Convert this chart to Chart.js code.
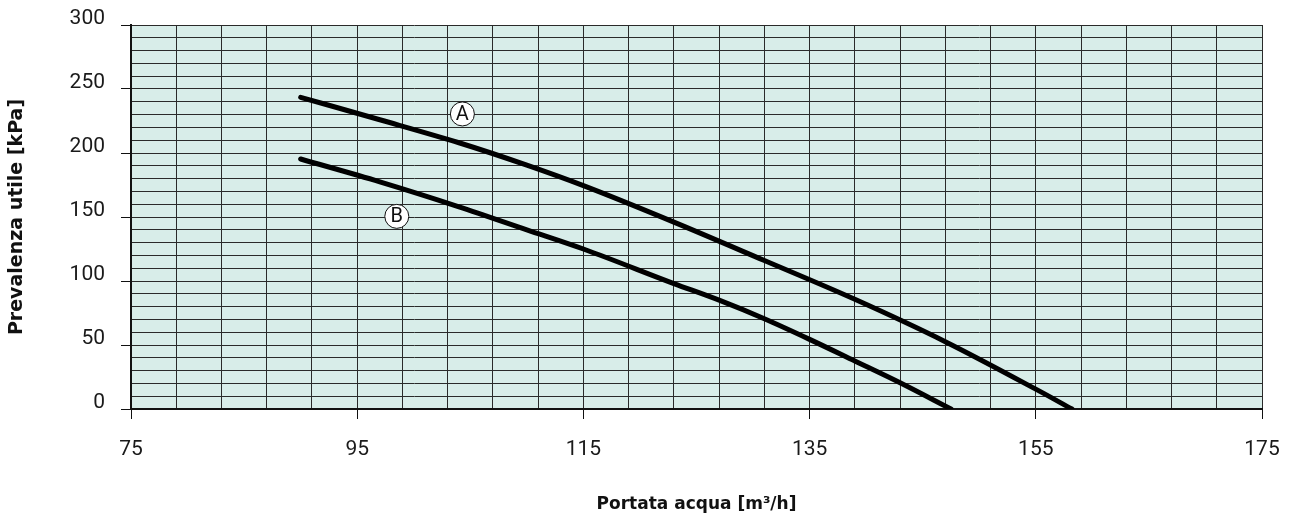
<!DOCTYPE html>
<html>
<head>
<meta charset="utf-8">
<script src="https://cdn.jsdelivr.net/npm/chart.js@4.4.0/dist/chart.umd.min.js"></script>
<style>
  html, body { margin: 0; padding: 0; background: #fff; }
  #wrap { width: 1291px; height: 527px; }
</style>
</head>
<body>
<div id="wrap"><canvas id="chart" width="1291" height="527"></canvas></div>
<script>
// Curve A / B (flow m3/h, head kPa)
const flowA = [90, 97, 104, 110, 115, 123, 131, 139, 147, 155, 158.2];
const headA = [243.5, 226, 208, 190.5, 174.5, 146, 116, 85.7, 52.6, 15.5, 0];
const flowB = [90, 97, 104, 110, 115, 123, 127, 131, 135, 139, 143, 147.5];
const headB = [195.3, 177.5, 158, 140, 125, 98, 85, 70.5, 54.4, 37.5, 20.5, 0];

const xTickLabels = [75, 95, 115, 135, 155, 175];
const yTickLabels = [0, 50, 100, 150, 200, 250, 300];

// circled curve names, placed in data units
const curveNames = ['A', 'B'];
const nameX = [104.3, 98.5];
const nameY = [230.5, 150.5];

const toPoints = (xs, ys) => xs.map((x, i) => ({ x: x, y: ys[i] }));

const plotBg = {
    id: 'plotBg',
    beforeDraw(chart) {
        const a = chart.chartArea, ctx = chart.ctx;
        ctx.save();
        ctx.fillStyle = '#d8ede9';
        ctx.fillRect(a.left, a.top, a.right - a.left, a.bottom - a.top);
        ctx.restore();
    }
};

const circledNames = {
    id: 'circledNames',
    afterDatasetsDraw(chart) {
        const ctx = chart.ctx, xs = chart.scales.x, ys = chart.scales.y;
        ctx.save();
        curveNames.forEach((n, i) => {
            const px = xs.getPixelForValue(nameX[i]);
            const py = ys.getPixelForValue(nameY[i]);
            ctx.beginPath();
            ctx.arc(px, py, 12, 0, Math.PI * 2);
            ctx.fillStyle = '#fff';
            ctx.fill();
            ctx.lineWidth = 1;
            ctx.strokeStyle = '#111';
            ctx.stroke();
            ctx.fillStyle = '#111';
            ctx.font = '20px Roboto';
            ctx.textAlign = 'center';
            ctx.textBaseline = 'middle';
            ctx.fillText(n, px, py + 1);
        });
        ctx.restore();
    }
};

function stepTicks(step) {
    return function(scale) {
        const t = [];
        for (let v = scale.min; v <= scale.max + 1e-9; v += step) t.push({ value: v });
        scale.ticks = t;
    };
}

const lineStyle = {
    showLine: true,
    borderColor: '#000',
    backgroundColor: '#000',
    borderWidth: 5,
    borderCapStyle: 'round',
    pointRadius: 0,
    cubicInterpolationMode: 'monotone'
};

new Chart(document.getElementById('chart').getContext('2d'), {
    type: 'scatter',
    data: {
        datasets: [
            Object.assign({ label: 'A', data: toPoints(flowA, headA) }, lineStyle),
            Object.assign({ label: 'B', data: toPoints(flowB, headB) }, lineStyle)
        ]
    },
    options: {
        responsive: false,
        animation: false,
        layout: { padding: { top: 25, right: 29, left: 0, bottom: 0 } },
        plugins: { legend: { display: false }, tooltip: { enabled: false } },
        scales: {
            x: {
                type: 'linear',
                min: 75,
                max: 175,
                afterBuildTicks: stepTicks(4),
                afterFit(scale) {
                    scale.height = 118;
                    scale.paddingLeft = 0;
                    scale.paddingRight = 0;
                },
                grid: {
                    color: '#2a2a2a',
                    lineWidth: 1,
                    tickLength: 10,
                    tickColor: ctx => xTickLabels.includes(ctx.tick.value) ? '#111' : 'rgba(0,0,0,0)'
                },
                border: { color: '#111', width: 2 },
                ticks: {
                    autoSkip: false,
                    maxRotation: 0,
                    padding: 18,
                    color: '#1a1a1a',
                    font: { family: 'Roboto', size: 21 },
                    callback: v => xTickLabels.includes(v) ? String(v) : ''
                },
                title: {
                    display: true,
                    text: 'Portata acqua [m³/h]',
                    color: '#111',
                    font: { family: 'DejaVu Sans', size: 17, weight: 'bold' },
                    padding: { top: 0, bottom: 12 }
                }
            },
            y: {
                type: 'linear',
                min: 0,
                max: 300,
                afterBuildTicks: stepTicks(10),
                afterFit(scale) {
                    scale.width = 131;
                    scale.paddingTop = 0;
                    scale.paddingBottom = 0;
                },
                grid: {
                    color: '#2a2a2a',
                    lineWidth: 1,
                    tickLength: 10,
                    tickColor: ctx => yTickLabels.includes(ctx.tick.value) ? '#111' : 'rgba(0,0,0,0)'
                },
                border: { color: '#111', width: 2 },
                ticks: {
                    autoSkip: false,
                    padding: 16,
                    labelOffset: -6,
                    color: '#1a1a1a',
                    font: { family: 'Roboto', size: 21 },
                    callback: v => yTickLabels.includes(v) ? String(v) : ''
                },
                title: {
                    display: true,
                    text: 'Prevalenza utile [kPa]',
                    color: '#111',
                    font: { family: 'DejaVu Sans', size: 19, weight: 'bold' },
                    padding: { top: 6, bottom: 0 }
                }
            }
        }
    },
    plugins: [plotBg, circledNames]
});
</script>
</body>
</html>
